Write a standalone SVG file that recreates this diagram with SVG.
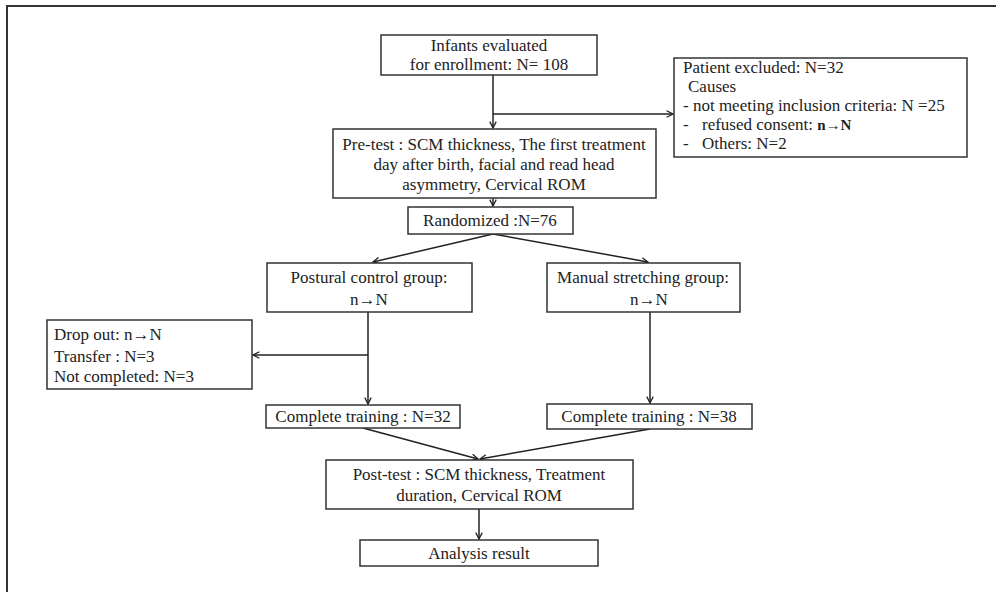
<svg xmlns="http://www.w3.org/2000/svg" width="996" height="592" viewBox="0 0 996 592">
<defs>
<marker id="ah" viewBox="0 0 10 10" refX="9" refY="5" markerWidth="8" markerHeight="8" markerUnits="userSpaceOnUse" orient="auto">
<path d="M1,1 L9,5 L1,9" fill="none" stroke="#222" stroke-width="1.6"/>
</marker>
<style>
.b{fill:#fff;stroke:#333;stroke-width:1.5}
.t{font-family:"Liberation Serif","Times New Roman",serif;font-size:17px;fill:#222}
.c{text-anchor:middle}
.l{fill:none;stroke:#222;stroke-width:1.5}
</style>
</defs>
<rect width="996" height="592" fill="#fff"/>
<path d="M7,592 V6 H996" fill="none" stroke="#333" stroke-width="2"/>
<g id="connectors">
<line class="l" x1="493" y1="75" x2="493" y2="128" marker-end="url(#ah)"/>
<line class="l" x1="493" y1="114" x2="673" y2="114" marker-end="url(#ah)"/>
<line class="l" x1="493" y1="198" x2="493" y2="206" marker-end="url(#ah)"/>
<line class="l" x1="493" y1="234" x2="373" y2="262" marker-end="url(#ah)"/>
<line class="l" x1="493" y1="234" x2="648" y2="262" marker-end="url(#ah)"/>
<line class="l" x1="368" y1="312" x2="368" y2="404" marker-end="url(#ah)"/>
<line class="l" x1="368" y1="355" x2="253" y2="355" marker-end="url(#ah)"/>
<line class="l" x1="650" y1="312" x2="650" y2="403" marker-end="url(#ah)"/>
<line class="l" x1="363" y1="428" x2="478" y2="459" marker-end="url(#ah)"/>
<line class="l" x1="650" y1="429" x2="480" y2="459" marker-end="url(#ah)"/>
<line class="l" x1="479" y1="509" x2="479" y2="539" marker-end="url(#ah)"/>
</g>
<g id="n-infants">
<rect class="b" x="381" y="35" width="216" height="40"/>
<text class="t c" x="489" y="51">Infants evaluated</text>
<text class="t c" x="489" y="70">for enrollment: N= 108</text>
</g>
<g id="n-excluded">
<rect class="b" x="674" y="58" width="293" height="99"/>
<text class="t" x="683" y="73">Patient excluded: N=32</text>
<text class="t" x="688" y="92">Causes</text>
<text class="t" x="683" y="111">- not meeting inclusion criteria: N =25</text>
<text class="t" x="683" y="130">-</text>
<text class="t" x="702" y="130">refused consent:  <tspan font-size="15" font-weight="bold">n→N</tspan></text>
<text class="t" x="683" y="149">-</text>
<text class="t" x="702" y="149">Others: N=2</text>
</g>
<g id="n-pretest">
<rect class="b" x="333" y="129" width="323" height="69"/>
<text class="t c" x="494" y="150">Pre-test : SCM thickness, The first treatment</text>
<text class="t c" x="494" y="170">day after birth, facial and read head</text>
<text class="t c" x="494" y="190">asymmetry, Cervical ROM</text>
</g>
<g id="n-random">
<rect class="b" x="408" y="207" width="165" height="27"/>
<text class="t c" x="490" y="226">Randomized :N=76</text>
</g>
<g id="n-postural">
<rect class="b" x="267" y="263" width="205" height="49"/>
<text class="t c" x="369" y="283">Postural control group:</text>
<text class="t c" x="369" y="305">n→N</text>
</g>
<g id="n-manual">
<rect class="b" x="547" y="263" width="193" height="49"/>
<text class="t c" x="643" y="283">Manual stretching group:</text>
<text class="t c" x="649" y="305">n→N</text>
</g>
<g id="n-dropout">
<rect class="b" x="47" y="320" width="205" height="69"/>
<text class="t" x="54" y="340">Drop out: n→N</text>
<text class="t" x="54" y="362">Transfer : N=3</text>
<text class="t" x="54" y="382">Not completed: N=3</text>
</g>
<g id="n-complete1">
<rect class="b" x="266" y="405" width="194" height="23"/>
<text class="t c" x="363" y="422">Complete training : N=32</text>
</g>
<g id="n-complete2">
<rect class="b" x="547" y="404" width="205" height="25"/>
<text class="t c" x="649" y="422">Complete training : N=38</text>
</g>
<g id="n-posttest">
<rect class="b" x="326" y="460" width="307" height="49"/>
<text class="t c" x="479" y="480">Post-test : SCM thickness, Treatment</text>
<text class="t c" x="479" y="501">duration, Cervical ROM</text>
</g>
<g id="n-analysis">
<rect class="b" x="360" y="540" width="238" height="26"/>
<text class="t c" x="479" y="559">Analysis result</text>
</g>
</svg>
